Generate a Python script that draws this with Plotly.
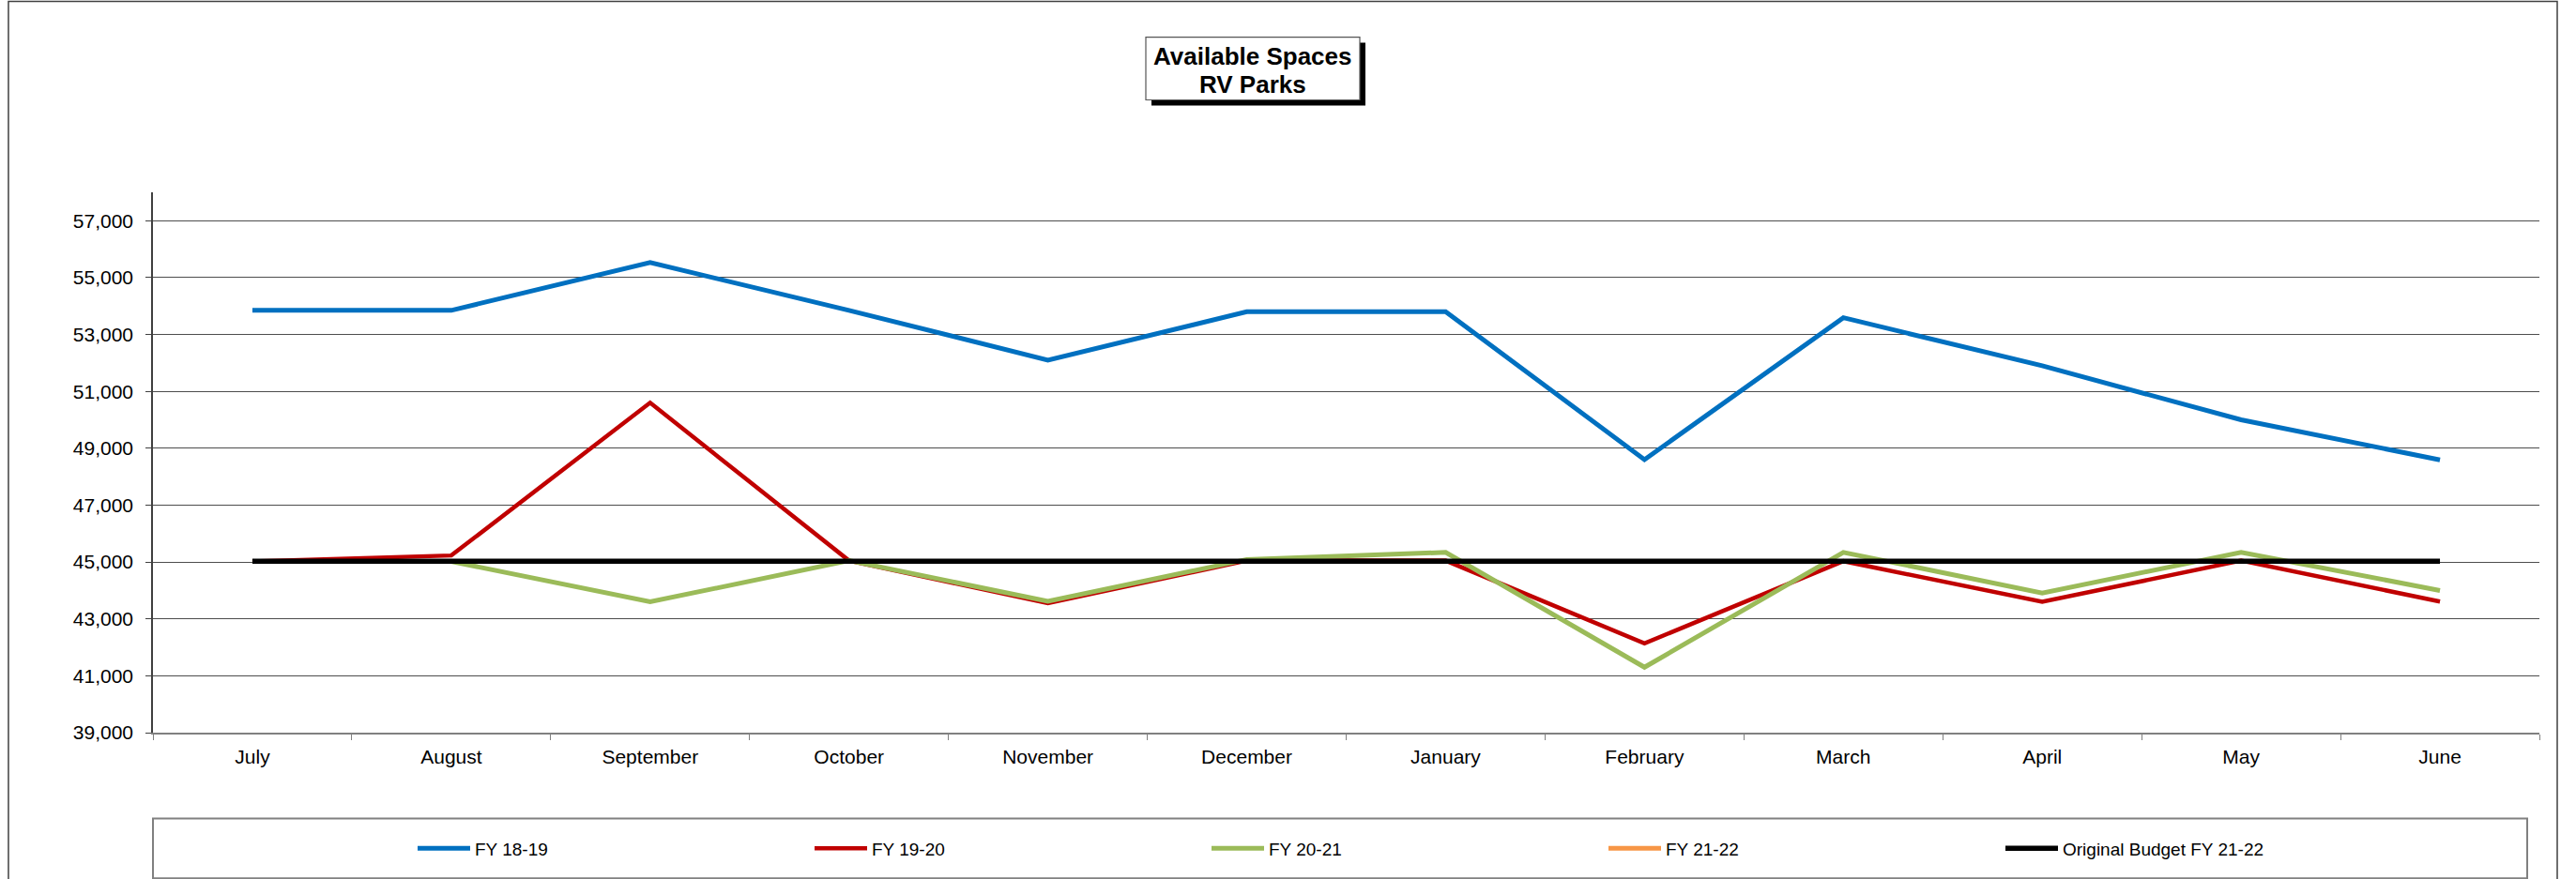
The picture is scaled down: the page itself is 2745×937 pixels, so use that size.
import plotly.graph_objects as go

# Monthly available RV park spaces by fiscal year
months = ["July", "August", "September", "October", "November", "December",
          "January", "February", "March", "April", "May", "June"]

fy_18_19 = [53850, 53850, 55530, 53850, 52100, 53800, 53800, 48600, 53590, 51900, 50000, 48590]
fy_19_20 = [45020, 45230, 50600, 45050, 43550, 45050, 45050, 42140, 45030, 43600, 45050, 43610]
fy_20_21 = [45020, 45020, 43600, 45050, 43620, 45090, 45340, 41300, 45340, 43910, 45340, 44000]
fy_21_22 = [None] * 12
budget_21_22 = [45030] * 12

y_ticks = list(range(39000, 57001, 2000))
title_lines = ["Available Spaces", "RV Parks"]

W, H = 2745, 937
L, R, T, B = 163, 2706, 204.5, 780.6

FONT = "Arial, 'Liberation Sans', sans-serif"


def px_x(p):
    return (p - L) / (R - L)


def px_y(p):
    return (B - p) / (B - T)


series = [
    ("FY 18-19", fy_18_19, "#0070C0", 5.0),
    ("FY 19-20", fy_19_20, "#C00000", 4.5),
    ("FY 20-21", fy_20_21, "#9BBB59", 5.0),
    ("FY 21-22", fy_21_22, "#F79646", 5.0),
    ("Original Budget FY 21-22", budget_21_22, "#000000", 5.5),
]

fig = go.Figure()
for name, vals, color, width in series:
    fig.add_trace(go.Scatter(
        x=months, y=vals, name=name, mode="lines",
        line=dict(color=color, width=width),
    ))

shapes = [
    # outer chart frame
    dict(type="rect", xref="paper", yref="paper",
         x0=px_x(9), x1=px_x(2725), y0=px_y(945), y1=px_y(1),
         line=dict(color="#404040", width=1.5), layer="below"),
    # legend frame
    dict(type="rect", xref="paper", yref="paper",
         x0=px_x(163), x1=px_x(2693), y0=px_y(936), y1=px_y(872),
         line=dict(color="#808080", width=2), layer="below"),
    # title shadow
    dict(type="rect", xref="paper", yref="paper",
         x0=px_x(1227), x1=px_x(1455), y0=px_y(112), y1=px_y(45),
         fillcolor="#000000", line=dict(width=0)),
    # title box
    dict(type="rect", xref="paper", yref="paper",
         x0=px_x(1221), x1=px_x(1449), y0=px_y(106), y1=px_y(39),
         fillcolor="#FFFFFF", line=dict(color="#555555", width=1.2)),
]

title_annotations = [
    dict(text="<b>%s</b>" % line, xref="paper", yref="paper",
         x=px_x(1335), y=px_y(cy), xanchor="center", yanchor="middle",
         showarrow=False, font=dict(size=26, family=FONT, color="#000000"))
    for line, cy in zip(title_lines, [59, 89])
]

fig.update_layout(
    width=W, height=H,
    margin=dict(l=L, r=W - R, t=T, b=H - B, pad=0),
    paper_bgcolor="white", plot_bgcolor="white",
    font=dict(family=FONT, color="#000000"),
    showlegend=True,
    legend=dict(
        orientation="h", x=px_x(440), xanchor="left",
        y=px_y(904), yanchor="middle",
        font=dict(size=19, family=FONT, color="#000000"),
        entrywidth=352, entrywidthmode="pixels",
        itemwidth=56, bgcolor="rgba(0,0,0,0)", borderwidth=0,
        traceorder="normal",
    ),
    shapes=shapes,
    annotations=title_annotations,
)

fig.update_xaxes(
    type="category", tickson="boundaries", range=[-0.5, 11.5],
    ticks="outside", ticklen=6, tickcolor="#808080",
    showline=True, linecolor="#808080", linewidth=1.5,
    showgrid=False, tickfont=dict(size=21, family=FONT, color="#000000"),
    ticklabelstandoff=6,
)
fig.update_yaxes(
    range=[39000, 58000], tickvals=y_ticks, tickformat=",",
    ticks="outside", ticklen=6, tickcolor="#404040",
    showline=True, linecolor="#404040", linewidth=1.5,
    showgrid=True, gridcolor="#4d4d4d", gridwidth=1,
    zeroline=False,
    tickfont=dict(size=21, family=FONT, color="#000000"),
    ticklabelstandoff=9,
)

fig.write_html("out.html")
